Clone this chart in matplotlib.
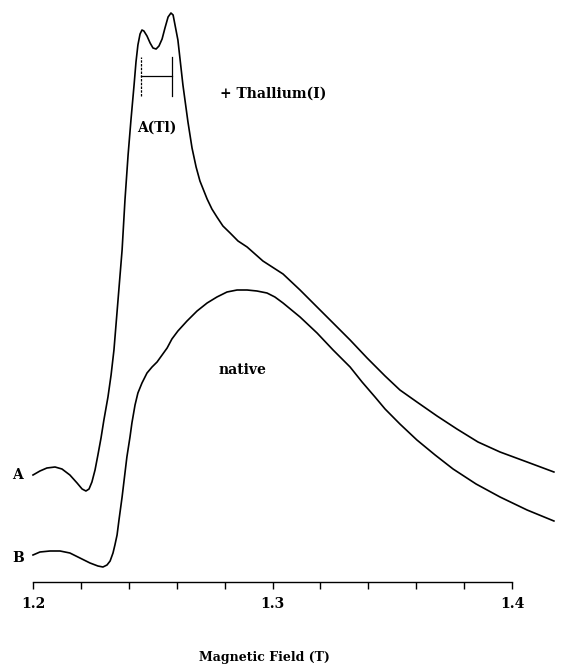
import matplotlib
matplotlib.use("Agg")
import matplotlib.pyplot as plt
import numpy as np

# curve A: + Thallium(I)  (field in T, signal in arbitrary units)
field_a = [1.2000, 1.2029, 1.2058, 1.2092, 1.2121, 1.2154, 1.2184, 1.2205, 1.2221, 1.2234,
           1.2246, 1.2259, 1.2271, 1.2284, 1.2296, 1.2313, 1.2326, 1.2338, 1.2355, 1.2372,
           1.2384, 1.2397, 1.2409, 1.2422, 1.2430, 1.2438, 1.2447, 1.2455, 1.2463, 1.2476,
           1.2489, 1.2501, 1.2514, 1.2526, 1.2539, 1.2551, 1.2564, 1.2576, 1.2585, 1.2593,
           1.2605, 1.2626, 1.2647, 1.2664, 1.2681, 1.2697, 1.2727, 1.2747, 1.2768, 1.2793,
           1.2823, 1.2856, 1.2894, 1.2960, 1.3044, 1.3115, 1.3186, 1.3253, 1.3324, 1.3395,
           1.3470, 1.3532, 1.3603, 1.3687, 1.3770, 1.3858, 1.3950, 1.4063, 1.4175]
signal_a = [107, 111, 114, 115, 113, 107, 99, 93, 91, 93,
            100, 112, 127, 144, 162, 185, 207, 232, 282, 332,
            382, 427, 462, 497, 520, 537, 548, 552, 551, 546,
            539, 534, 533, 536, 543, 554, 565, 569, 567, 557,
            542, 497, 460, 434, 415, 401, 383, 373, 365, 356,
            349, 341, 335, 321, 308, 292, 275, 259, 242, 224,
            206, 192, 180, 166, 153, 140, 130, 120, 110]

# curve B: native
field_b = [1.2000, 1.2029, 1.2071, 1.2113, 1.2154, 1.2196, 1.2238, 1.2271, 1.2292, 1.2309,
           1.2322, 1.2334, 1.2342, 1.2351, 1.2359, 1.2372, 1.2384, 1.2392, 1.2405, 1.2413,
           1.2426, 1.2438, 1.2455, 1.2476, 1.2497, 1.2518, 1.2539, 1.2560, 1.2580, 1.2605,
           1.2643, 1.2685, 1.2727, 1.2768, 1.2810, 1.2852, 1.2894, 1.2935, 1.2977, 1.3010,
           1.3044, 1.3115, 1.3186, 1.3253, 1.3324, 1.3374, 1.3428, 1.3470, 1.3532, 1.3603,
           1.3679, 1.3754, 1.3850, 1.3950, 1.4063, 1.4175]
signal_b = [27, 30, 31, 31, 29, 24, 19, 16, 15, 17,
            21, 29, 37, 47, 62, 85, 109, 125, 145, 159,
            177, 189, 199, 209, 215, 220, 227, 234, 243, 251,
            261, 271, 279, 285, 290, 292, 292, 291, 289, 285,
            279, 265, 249, 232, 215, 200, 185, 173, 158, 142,
            127, 113, 98, 85, 72, 61]

# A(Tl) hyperfine splitting bracket
bracket_x = [1.2451, 1.2580]

major_ticks = [1.2, 1.3, 1.4]
tick_labels = ["1.2", "1.3", "1.4"]

plt.rcParams['font.family'] = ['DejaVu Serif']
plt.rcParams['font.weight'] = 'bold'

fig = plt.figure(figsize=(5.66, 6.68), dpi=100)
ax = fig.add_axes([0, 86 / 668, 1, 582 / 668])

ax.plot(field_a, signal_a, color='black', lw=1.2, solid_joinstyle='round')
ax.plot(field_b, signal_b, color='black', lw=1.2, solid_joinstyle='round')

# bracket
ax.plot([bracket_x[0], bracket_x[0]], [486, 525], color='black', lw=0.9, linestyle=(0, (2, 1)))
ax.plot([bracket_x[1], bracket_x[1]], [486, 525], color='black', lw=0.9)
ax.plot(bracket_x, [506, 506], color='black', lw=0.9)

ax.text(1.2518, 454, "A(Tl)", ha='center', va='center', fontsize=10, fontweight='bold')
ax.text(1.2781, 488, "+ Thallium(I)", ha='left', va='center', fontsize=10, fontweight='bold')
ax.text(1.2873, 212, "native", ha='center', va='center', fontsize=10, fontweight='bold')
ax.text(1.1937, 107, "A", ha='center', va='center', fontsize=10, fontweight='bold')
ax.text(1.1937, 24, "B", ha='center', va='center', fontsize=10, fontweight='bold')

ax.set_xlim(1.2 - 33 / 2395, 1.2 + 533 / 2395)
ax.set_ylim(0, 582)
for s in ['left', 'top', 'right']:
    ax.spines[s].set_visible(False)
ax.spines['bottom'].set_bounds(1.2, 1.4)
ax.spines['bottom'].set_linewidth(1.0)
ax.set_yticks([])
ax.set_xticks(major_ticks)
ax.set_xticklabels(tick_labels, fontsize=10, fontweight='bold')
ax.set_xticks(np.arange(1.2, 1.401, 0.02), minor=True)
ax.tick_params(axis='x', which='both', direction='out', length=5, width=1.0, pad=6)
ax.patch.set_visible(False)

fig.text(264 / 566, 1 - 657 / 668, "Magnetic Field (T)", ha='center', va='center',
         fontsize=9, fontweight='bold')

fig.savefig("out.png", dpi=100)
